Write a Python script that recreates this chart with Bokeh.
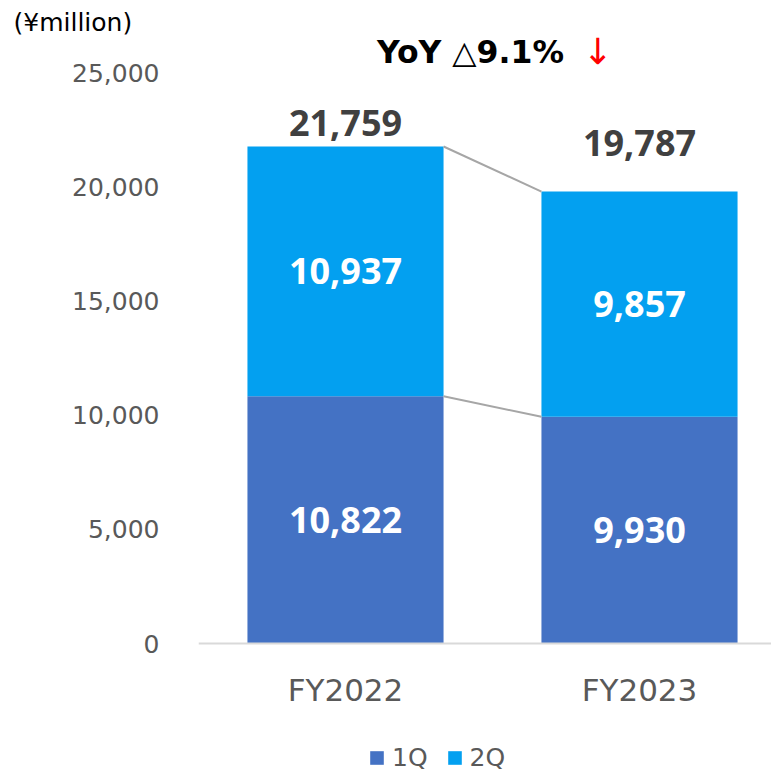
from bokeh.plotting import figure
from bokeh.models import ColumnDataSource, FixedTicker, Range1d, Legend, LegendItem, NumeralTickFormatter, Title
from bokeh.core.properties import value
from bokeh.embed import file_html
from bokeh.resources import INLINE

# ---- data ----
categories = ["FY2022", "FY2023"]
q1 = [10822, 9930]
q2 = [10937, 9857]
totals = [21759, 19787]
series_names = ["1Q", "2Q"]
yticks = [0, 5000, 10000, 15000, 20000, 25000]
unit_label = "(¥million)"
yoy_text = "YoY △9.1%"
yoy_arrow = "↓"

# ---- styles ----
C1 = "#4472C4"
C2 = "#03A0F0"
BAR_W = 0.667
total_offsets = [-24, -49]   # px above bar top for total labels

xs = [i + 0.5 for i in range(len(categories))]
q1_top = q1
q2_top = [a + b for a, b in zip(q1, q2)]
q1_mid = [a / 2 for a in q1]
q2_mid = [a + b / 2 for a, b in zip(q1, q2)]

src = ColumnDataSource(dict(
    x=xs, q1_top=q1_top, q2_top=q2_top,
    q1_mid=q1_mid, q2_mid=q2_mid, total=totals,
    q1_lbl=[f"{v:,}" for v in q1], q2_lbl=[f"{v:,}" for v in q2],
    tot_lbl=[f"{v:,}" for v in totals], tot_off=total_offsets,
    zero=[0] * len(xs),
))

W = 771
left, top, axis_y, frame_bottom = 198, 36, 643, 772
px_per_unit = 571 / 25000
p = figure(frame_width=W - left, frame_height=frame_bottom - top,
           output_backend="svg", toolbar_location=None,
           x_range=Range1d(0, (W - left) / 294),
           y_range=Range1d(-(frame_bottom - axis_y) / px_per_unit, (axis_y - top) / px_per_unit),
           min_border_left=left, min_border_right=0, min_border_top=top,
           min_border_bottom=0)
p.outline_line_color = None
p.xgrid.visible = False
p.ygrid.visible = False

# unit label as title
p.title = Title(text=unit_label, align="left", offset=13 - left, standoff=0,
                text_font="DejaVu Sans", text_font_size="25px", text_font_style="normal",
                text_color="black")

r1 = p.vbar(x="x", bottom="zero", top="q1_top", width=BAR_W, source=src, fill_color=C1, line_color=None)
r2 = p.vbar(x="x", bottom="q1_top", top="q2_top", width=BAR_W, source=src, fill_color=C2, line_color=None)

# connector lines
p.segment(x0=[xs[0] + BAR_W / 2] * 2, x1=[xs[1] - BAR_W / 2] * 2,
          y0=[q1_top[0], q2_top[0]], y1=[q1_top[1], q2_top[1]],
          line_color="#A6A6A6", line_width=2)

# inside labels
for col, y in (("q1_lbl", "q1_mid"), ("q2_lbl", "q2_mid")):
    p.text(x="x", y=y, text=col, source=src, text_color="white",
           text_font=value("Open Sans"), text_font_style="bold", text_font_size="36px",
           text_align="center", text_baseline="middle")

# totals
p.text(x="x", y="total", text="tot_lbl", source=src, y_offset="tot_off", text_color="#404040",
       text_font=value("Open Sans"), text_font_style="bold", text_font_size="36px",
       text_align="center", text_baseline="middle")

# YoY title
yy = (axis_y - 51) / px_per_unit
p.text(x=[(470 - left) / 294], y=[yy], text=[yoy_text], text_color="black",
       text_font=value("DejaVu Sans"), text_font_style="bold", text_font_size="31.5px",
       text_align="center", text_baseline="middle")
p.text(x=[(597 - left) / 294], y=[yy], text=[yoy_arrow], text_color="#FF0000",
       text_font=value("DejaVu Sans"), text_font_size="36px",
       text_align="center", text_baseline="middle")

# axes
p.xaxis.fixed_location = 0
p.xaxis.ticker = FixedTicker(ticks=xs)
p.xaxis.major_label_overrides = {x: c for x, c in zip(xs, categories)}
p.xaxis.axis_line_color = "#D9D9D9"
p.xaxis.axis_line_width = 2
p.xaxis.major_tick_line_color = None
p.xaxis.minor_tick_line_color = None
p.xaxis.major_label_text_font = "DejaVu Sans"
p.xaxis.major_label_text_font_size = "31px"
p.xaxis.major_label_text_color = "#595959"
p.xaxis.major_label_standoff = 22

p.yaxis.ticker = FixedTicker(ticks=yticks)
p.yaxis.formatter = NumeralTickFormatter(format="0,0")
p.yaxis.axis_line_color = None
p.yaxis.major_tick_line_color = None
p.yaxis.minor_tick_line_color = None
p.yaxis.major_label_text_font = "DejaVu Sans"
p.yaxis.major_label_text_font_size = "25px"
p.yaxis.major_label_text_color = "#595959"
p.yaxis.major_label_standoff = 33

legend = Legend(items=[LegendItem(label=series_names[0], renderers=[r1]),
                       LegendItem(label=series_names[1], renderers=[r2])],
                orientation="horizontal", location=(170, 0),
                glyph_width=17, glyph_height=17, label_standoff=7, spacing=18,
                padding=0, margin=0, border_line_color=None, background_fill_alpha=0,
                label_text_font="DejaVu Sans", label_text_font_size="25px",
                label_text_color="#595959")
p.add_layout(legend, "center")

open("out.html", "w").write(file_html(p, INLINE))
